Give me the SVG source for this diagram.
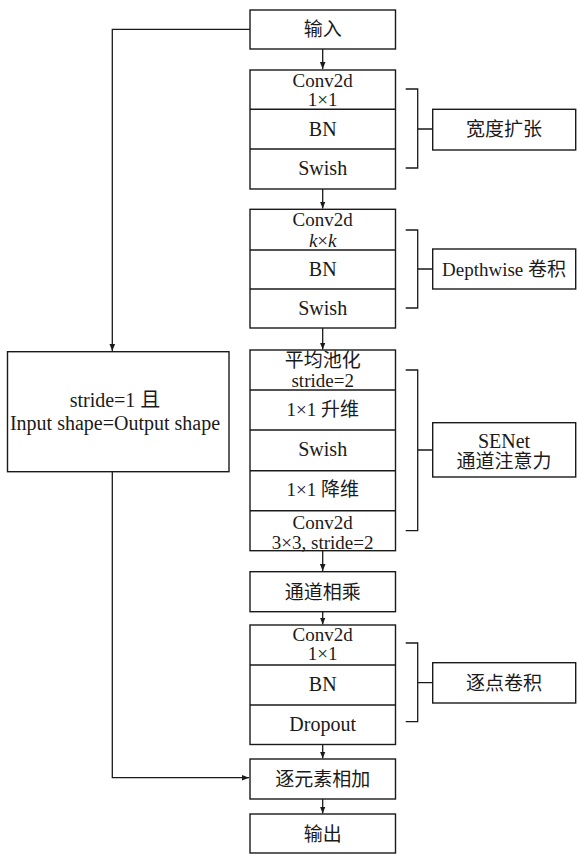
<svg xmlns="http://www.w3.org/2000/svg" width="577" height="855" viewBox="0 0 577 855">
<defs>
<style>
rect{fill:#fff;stroke:#1a1a1a;stroke-width:1.4}
.d{stroke:#1a1a1a;stroke-width:1.4;fill:none}
text{font-family:"Liberation Serif","Noto Sans CJK SC",serif;font-size:20px;fill:#1a1a1a;text-anchor:middle}
text.z,text.t{font-size:19px}
.c{stroke:#1a1a1a;stroke-width:1.3;fill:none}
</style>
<marker id="ah" markerWidth="8" markerHeight="8" refX="7" refY="4" orient="auto" markerUnits="userSpaceOnUse">
<path d="M0,1.2 L7,4 L0,6.8 Z" fill="#1a1a1a"/>
</marker>
</defs>
<g id="connectors">
<path class="c" d="M322.7,49 V69" marker-end="url(#ah)"/>
<path class="c" d="M322.7,189 V208.5" marker-end="url(#ah)"/>
<path class="c" d="M322.7,328 V349.5" marker-end="url(#ah)"/>
<path class="c" d="M322.7,551 V571" marker-end="url(#ah)"/>
<path class="c" d="M322.7,612 V624.5" marker-end="url(#ah)"/>
<path class="c" d="M322.7,744.5 V758.5" marker-end="url(#ah)"/>
<path class="c" d="M322.7,799 V813.5" marker-end="url(#ah)"/>
<path class="c" d="M250,29.3 H112.3 V351" marker-end="url(#ah)"/>
<path class="c" d="M112.3,471.7 V777.7 H249" marker-end="url(#ah)"/>
<path class="c" d="M405.7,89 H417.7 V168 H405.7 M417.7,129 H432.7"/>
<path class="c" d="M405.7,230 H417.7 V308 H405.7 M417.7,269 H432.7"/>
<path class="c" d="M405.7,370 H417.7 V530.7 H405.7 M417.7,450 H432.7"/>
<path class="c" d="M405.7,643 H417.7 V721.7 H405.7 M417.7,682.7 H432.7"/>
</g>
<g id="input">
<rect x="250" y="10" width="145.5" height="39"/>
<text class="z" x="322.7" y="36">输入</text>
</g>
<g id="expand">
<rect x="250" y="70" width="145.5" height="119"/>
<path class="d" d="M250,109.3 H395.5 M250,149 H395.5"/>
<text class="t" x="322.7" y="86.5">Conv2d</text>
<text class="t" x="322.7" y="106">1×1</text>
<text x="322.7" y="135.5">BN</text>
<text x="322.7" y="175">Swish</text>
</g>
<g id="depthwise">
<rect x="250" y="209.3" width="145.5" height="118.7"/>
<path class="d" d="M250,250 H395.5 M250,289 H395.5"/>
<text class="t" x="322.7" y="226">Conv2d</text>
<text class="t" x="322.7" y="246.5"><tspan font-style="italic">k</tspan>×<tspan font-style="italic">k</tspan></text>
<text x="322.7" y="276">BN</text>
<text x="322.7" y="315">Swish</text>
</g>
<g id="senet">
<rect x="250" y="350" width="145.5" height="200.7"/>
<path class="d" d="M250,390 H395.5 M250,430 H395.5 M250,470.7 H395.5 M250,510.7 H395.5"/>
<text class="z" x="322.7" y="367">平均池化</text>
<text class="t" x="322.7" y="386.5">stride=2</text>
<text class="z" x="322.7" y="415.5">1×1 升维</text>
<text x="322.7" y="455.5">Swish</text>
<text class="z" x="322.7" y="496">1×1 降维</text>
<text class="t" x="322.7" y="529">Conv2d</text>
<text class="t" x="322.7" y="548.5">3×3, stride=2</text>
</g>
<g id="multiply">
<rect x="250" y="571.7" width="145.5" height="40"/>
<text class="z" x="322.7" y="598.5">通道相乘</text>
</g>
<g id="pointwise">
<rect x="250" y="625" width="145.5" height="119.5"/>
<path class="d" d="M250,665 H395.5 M250,705 H395.5"/>
<text class="t" x="322.7" y="640.5">Conv2d</text>
<text class="t" x="322.7" y="660">1×1</text>
<text x="322.7" y="690.5">BN</text>
<text x="322.7" y="731">Dropout</text>
</g>
<g id="add">
<rect x="250" y="759" width="145.5" height="40"/>
<text class="z" x="322.7" y="786">逐元素相加</text>
</g>
<g id="output">
<rect x="250" y="814" width="145.5" height="39"/>
<text class="z" x="322.7" y="840.5">输出</text>
</g>
<g id="condition">
<rect x="7.5" y="351.7" width="221.5" height="120"/>
<text x="115" y="407">stride=1 且</text>
<text x="115" y="430">Input shape=Output shape</text>
</g>
<g id="label-expand">
<rect x="432.7" y="109.3" width="143" height="40.7"/>
<text class="z" x="504" y="136">宽度扩张</text>
</g>
<g id="label-depthwise">
<rect x="432.7" y="249" width="143" height="40"/>
<text class="z" x="504" y="276">Depthwise 卷积</text>
</g>
<g id="label-senet">
<rect x="432.7" y="422.7" width="143" height="54.3"/>
<text x="504" y="447.5">SENet</text>
<text class="z" x="504" y="468">通道注意力</text>
</g>
<g id="label-pointwise">
<rect x="432.7" y="662.7" width="143" height="40.3"/>
<text class="z" x="504" y="689.5">逐点卷积</text>
</g>
</svg>
